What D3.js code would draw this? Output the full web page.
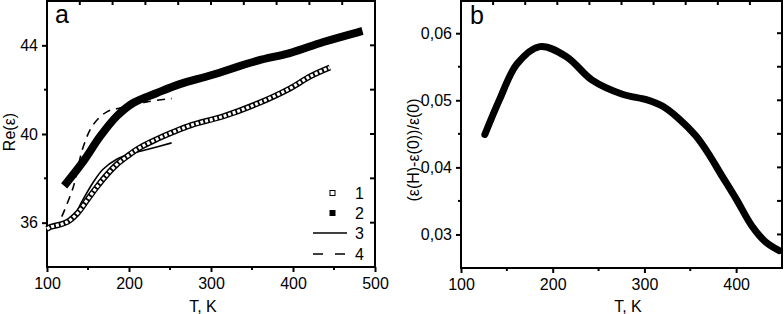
<!DOCTYPE html>
<html lang="en">
<meta charset="utf-8">
<head>
<script src="https://d3js.org/d3.v7.min.js"></script>
<style>
  body { margin: 0; background: #fff; }
  svg text { font-family: "Liberation Sans", Arial, sans-serif; fill: #000; }
</style>
</head>
<body>
<script>
// panel a: Re(eps) vs T
var t1 = [100, 104, 124, 137, 149, 161, 173, 185, 198, 213, 234, 254, 276, 315, 356, 396, 421, 445];
var e1 = [35.72, 35.8, 36.02, 36.42, 37.02, 37.62, 38.16, 38.62, 39.0, 39.38, 39.77, 40.09, 40.4, 40.8, 41.36, 42.05, 42.6, 43.0];

var t2 = [124, 144, 165, 185, 205, 234, 262, 300, 356, 396, 437, 480];
var e2 = [37.8, 38.75, 39.9, 40.8, 41.4, 41.85, 42.25, 42.65, 43.3, 43.65, 44.15, 44.6];

var t3 = [100, 110, 122, 132, 144, 156, 168, 185, 201, 222, 252];
var e3 = [35.72, 35.85, 36.0, 36.27, 37.05, 37.8, 38.4, 38.86, 39.1, 39.3, 39.6];

var t4 = [118, 132, 144, 156, 173, 193, 222, 252];
var e4 = [36.27, 37.6, 39.4, 40.4, 41.0, 41.2, 41.45, 41.6];

var legendLabels = ["1", "2", "3", "4"];

// panel b: (eps(H)-eps(0))/eps(0) vs T
var tb = [126, 142, 161, 186, 215, 243, 276, 302, 320, 338, 356, 371, 382, 400, 417, 432, 447];
var rb = [0.0449, 0.0501, 0.0554, 0.0580, 0.0565, 0.0530, 0.0509, 0.0501, 0.0491, 0.0472, 0.0447, 0.0418, 0.0393, 0.0353, 0.0313, 0.0289, 0.0276];

var xTicksA = [100, 200, 300, 400, 500];
var yTicksA = [36, 40, 44];
var xTicksB = [100, 200, 300, 400];
var yTicksB = [0.03, 0.04, 0.05, 0.06];

var svg = d3.select("body").append("svg").attr("width", 784).attr("height", 314);

var commaFmt = d3.formatLocale({decimal: ",", thousands: " ", grouping: [3], currency: ["", ""]}).format(".2f");

function frame(g, x, y, o) {
  var x0 = x.range()[0], x1 = x.range()[1], y0 = y.range()[0], y1 = y.range()[1];
  // minor ticks
  o.xMinor.forEach(function(v) {
    g.append("line").attr("x1", x(v)).attr("x2", x(v)).attr("y1", y0).attr("y2", y0 + 3)
      .attr("stroke", "#000").attr("stroke-width", 2);
  });
  o.yMinor.forEach(function(v) {
    g.append("line").attr("x1", x0).attr("x2", x0 - 3).attr("y1", y(v)).attr("y2", y(v))
      .attr("stroke", "#000").attr("stroke-width", 2);
  });
  // mirror ticks on right
  o.yMinor.concat(o.yTicks).forEach(function(v) {
    g.append("line").attr("x1", x1).attr("x2", x1 - 5).attr("y1", y(v)).attr("y2", y(v))
      .attr("stroke", "#000").attr("stroke-width", 2);
  });
  // top ticks split the width in ten
  var top = d3.scaleLinear().domain([0, 10]).range([x0, x1]);
  d3.range(1, 10).forEach(function(k) {
    g.append("line").attr("x1", top(k)).attr("x2", top(k)).attr("y1", y1).attr("y2", y1 + 4)
      .attr("stroke", "#000").attr("stroke-width", 2);
  });

  var xa = g.append("g").attr("transform", "translate(0," + y0 + ")")
    .call(d3.axisBottom(x).tickValues(o.xTicks).tickSize(5).tickPadding(6).tickSizeOuter(0));
  var ya = g.append("g").attr("transform", "translate(" + x0 + ",0)")
    .call(d3.axisLeft(y).tickValues(o.yTicks).tickSize(5).tickPadding(4).tickSizeOuter(0).tickFormat(o.yFmt));
  [xa, ya].forEach(function(a) {
    a.select(".domain").remove();
    a.selectAll("line").attr("stroke-width", 2);
    a.selectAll("text").attr("font-size", 16);
  });
  g.append("rect").attr("x", x0).attr("y", y1).attr("width", x1 - x0).attr("height", y0 - y1)
    .attr("fill", "none").attr("stroke", "#000").attr("stroke-width", 2);
}

// ---------- panel a ----------
var xa = d3.scaleLinear().domain([100, 500]).range([47, 375]);
var ya = d3.scaleLinear().domain([34, 46]).range([267, 1]);
var ga = svg.append("g");
frame(ga, xa, ya, {
  xTicks: xTicksA, xMinor: [150, 250, 350, 450],
  yTicks: yTicksA, yMinor: [38, 42], yFmt: d3.format("d")
});

var lineA = d3.line().x(function(d) { return xa(d[0]); }).y(function(d) { return ya(d[1]); })
  .curve(d3.curveCatmullRom.alpha(0.5));

// series 3: solid
ga.append("path").attr("d", lineA(d3.zip(t3, e3))).attr("fill", "none")
  .attr("stroke", "#000").attr("stroke-width", 1.6);
// series 4: dashed
ga.append("path").attr("d", lineA(d3.zip(t4, e4))).attr("fill", "none")
  .attr("stroke", "#000").attr("stroke-width", 1.6).attr("stroke-dasharray", "8,6");
// series 1: open squares chain
ga.append("path").attr("d", lineA(d3.zip(t1, e1))).attr("fill", "none")
  .attr("stroke", "#000").attr("stroke-width", 6);
ga.append("path").attr("d", lineA(d3.zip(t1, e1))).attr("fill", "none")
  .attr("stroke", "#fff").attr("stroke-width", 3.2).attr("stroke-dasharray", "3,1.8");
// series 2: filled squares
ga.append("path").attr("d", lineA(d3.zip(t2, e2))).attr("fill", "none")
  .attr("stroke", "#000").attr("stroke-width", 8).attr("stroke-linecap", "square");

// legend
var lg = ga.append("g");
var rows = [193, 213, 233, 254];
lg.append("rect").attr("x", 330).attr("y", rows[0] - 2.5).attr("width", 5).attr("height", 5)
  .attr("fill", "#fff").attr("stroke", "#000").attr("stroke-width", 1);
lg.append("rect").attr("x", 329.5).attr("y", rows[1] - 3).attr("width", 6).attr("height", 6).attr("fill", "#000");
lg.append("line").attr("x1", 313).attr("x2", 347).attr("y1", rows[2]).attr("y2", rows[2])
  .attr("stroke", "#000").attr("stroke-width", 1.6);
lg.append("line").attr("x1", 313).attr("x2", 347).attr("y1", rows[3]).attr("y2", rows[3])
  .attr("stroke", "#000").attr("stroke-width", 1.6).attr("stroke-dasharray", "10,12");
legendLabels.forEach(function(s, i) {
  lg.append("text").attr("x", 355).attr("y", rows[i] + 5.5).attr("font-size", 16).text(s);
});

ga.append("text").attr("x", 55).attr("y", 23).attr("font-size", 25).text("a");
ga.append("text").attr("x", 203).attr("y", 312).attr("text-anchor", "middle").attr("font-size", 16).text("T, K");
ga.append("text").attr("transform", "translate(15,132) rotate(-90)").attr("text-anchor", "middle")
  .attr("font-size", 16).text("Re(ε)");

// ---------- panel b ----------
var xb = d3.scaleLinear().domain([100, 450]).range([461, 782]);
var yb = d3.scaleLinear().domain([0.025, 0.0648]).range([268, 1]);
var gb = svg.append("g");
frame(gb, xb, yb, {
  xTicks: xTicksB, xMinor: [150, 250, 350],
  yTicks: yTicksB, yMinor: [0.035, 0.045, 0.055], yFmt: commaFmt
});

var lineB = d3.line().x(function(d) { return xb(d[0]); }).y(function(d) { return yb(d[1]); })
  .curve(d3.curveCatmullRom.alpha(0.5));
gb.append("path").attr("d", lineB(d3.zip(tb, rb))).attr("fill", "none")
  .attr("stroke", "#000").attr("stroke-width", 7).attr("stroke-linecap", "round");

gb.append("text").attr("x", 470).attr("y", 24).attr("font-size", 25).text("b");
gb.append("text").attr("x", 628).attr("y", 312).attr("text-anchor", "middle").attr("font-size", 16).text("T, K");
gb.append("text").attr("transform", "translate(419,150) rotate(-90)").attr("text-anchor", "middle")
  .attr("font-size", 16).text("(ε(H)-ε(0))/ε(0)");
</script>
</body>
</html>
